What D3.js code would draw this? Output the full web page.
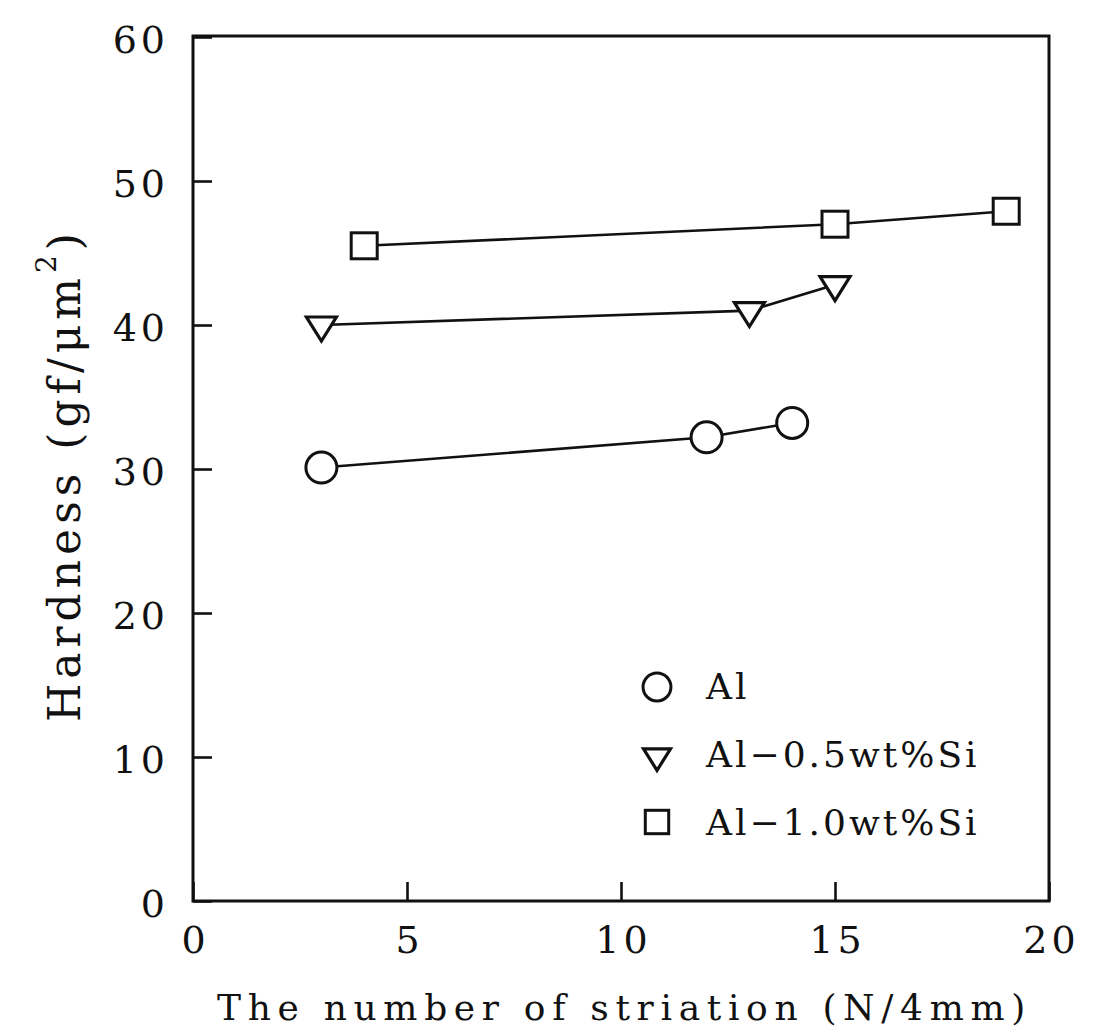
<!DOCTYPE html>
<html>
<head>
<meta charset="utf-8">
<script src="https://cdn.jsdelivr.net/npm/d3@7"></script>
<style>
  html, body { margin: 0; padding: 0; background: #fff; }
  svg { display: block; }
  text { font-family: "DejaVu Serif", "Liberation Serif", serif; fill: #111; }
</style>
</head>
<body>
<svg id="chart" width="1095" height="1028"></svg>
<script>
// ---- data ----
const xTicks = [0, 5, 10, 15, 20];
const yTicks = [0, 10, 20, 30, 40, 50, 60];

const alX = [3, 12, 14];
const alY = [30.1, 32.2, 33.2];

const si05X = [3, 13, 15];
const si05Y = [40.0, 41.0, 42.8];

const si10X = [4, 15, 19];
const si10Y = [45.5, 47.0, 47.9];

const seriesNames = ["Al", "Al\u22120.5wt%Si", "Al\u22121.0wt%Si"];
const seriesSymbols = ["circle", "triangle", "square"];

// ---- layout ----
const svg = d3.select("#chart");
const plotL = 193, plotR = 1049, plotT = 37, plotB = 901;

const x = d3.scaleLinear().domain([0, 20]).range([plotL, plotR]);
const y = d3.scaleLinear().domain([0, 60]).range([plotB, plotT]);

const ink = "#111";

// frame
svg.append("rect")
  .attr("x", plotL).attr("y", 36)
  .attr("width", plotR - plotL).attr("height", plotB - 36)
  .attr("fill", "none").attr("stroke", ink).attr("stroke-width", 3);

// axes (inward ticks)
const gx = svg.append("g").attr("transform", `translate(0,${plotB})`)
  .call(d3.axisBottom(x).tickValues(xTicks).tickSizeInner(-19).tickSizeOuter(0).tickPadding(25));
const gy = svg.append("g").attr("transform", `translate(${plotL},0)`)
  .call(d3.axisLeft(y).tickValues(yTicks).tickSizeInner(-19).tickSizeOuter(0).tickPadding(28));

[gx, gy].forEach(g => {
  g.select(".domain").remove();
  g.selectAll(".tick line").attr("stroke", ink).attr("stroke-width", 2.6);
  g.selectAll(".tick text")
    .attr("fill", ink)
    .style("font-family", '"DejaVu Serif", serif')
    .style("font-size", "38px")
    .style("letter-spacing", "4px");
});
gy.selectAll(".tick text").attr("dy", "0.4em").attr("dx", "4px");
gx.selectAll(".tick text").attr("dx", "2px");

// lines
const line = d3.line().x(d => x(d[0])).y(d => y(d[1]));
const seriesData = [
  d3.zip(alX, alY),
  d3.zip(si05X, si05Y),
  d3.zip(si10X, si10Y)
];
seriesData.forEach(pts => {
  svg.append("path").datum(pts)
    .attr("d", line)
    .attr("fill", "none").attr("stroke", ink).attr("stroke-width", 2.6);
});

// markers
function drawMarker(g, type, cx, cy, s) {
  if (type === "circle") {
    g.append("circle").attr("cx", cx).attr("cy", cy).attr("r", 15.5 * s)
      .attr("fill", "#fff").attr("stroke", ink).attr("stroke-width", 3);
  } else if (type === "square") {
    const h = 13 * s;
    g.append("rect").attr("x", cx - h).attr("y", cy - h).attr("width", 2 * h).attr("height", 2 * h)
      .attr("fill", "#fff").attr("stroke", ink).attr("stroke-width", 3);
  } else {
    const w = 15 * s, ht = 24 * s;
    const pts = [[cx - w, cy - ht / 3], [cx + w, cy - ht / 3], [cx, cy + 2 * ht / 3]];
    g.append("polygon").attr("points", pts.map(p => p.join(",")).join(" "))
      .attr("fill", "#fff").attr("stroke", ink).attr("stroke-width", 3.2)
      .attr("stroke-linejoin", "miter");
  }
}
const mg = svg.append("g");
seriesData.forEach((pts, i) => {
  pts.forEach(p => drawMarker(mg, seriesSymbols[i], x(p[0]), y(p[1]), 1));
});

// legend
const legendMarkerX = 657;
const legendRowY = [687, 756, 822];
const legendBaseY = [699, 767, 835];
seriesNames.forEach((name, i) => {
  drawMarker(svg, seriesSymbols[i], legendMarkerX, legendRowY[i], 0.9);
  svg.append("text")
    .attr("x", 706).attr("y", legendBaseY[i])
    .style("font-size", "36px")
    .style("letter-spacing", "3px")
    .text(name);
});

// fit text to a target length by adjusting letter-spacing
function fitSpacing(textSel, target) {
  const node = textSel.node();
  const n = node.getNumberOfChars();
  const len = node.getComputedTextLength();
  const ls = (target - len) / n;
  textSel.style("letter-spacing", ls + "px");
}

// x axis label
const xl = svg.append("text")
  .attr("x", 217).attr("y", 1020)
  .style("font-size", "36px")
  .text("The number of striation (N/4mm)");
fitSpacing(xl, 815);

// y axis label (rotated)
const yl = svg.append("text")
  .attr("transform", "translate(80,722) rotate(-90)")
  .attr("x", 0).attr("y", 0)
  .style("font-size", "44px");
yl.append("tspan").text("Hardness (gf/\u03bcm");
yl.append("tspan").attr("dy", -24).style("font-size", "28px").text("2");
yl.append("tspan").attr("dy", 24).text(")");
fitSpacing(yl, 494);
</script>
</body>
</html>
